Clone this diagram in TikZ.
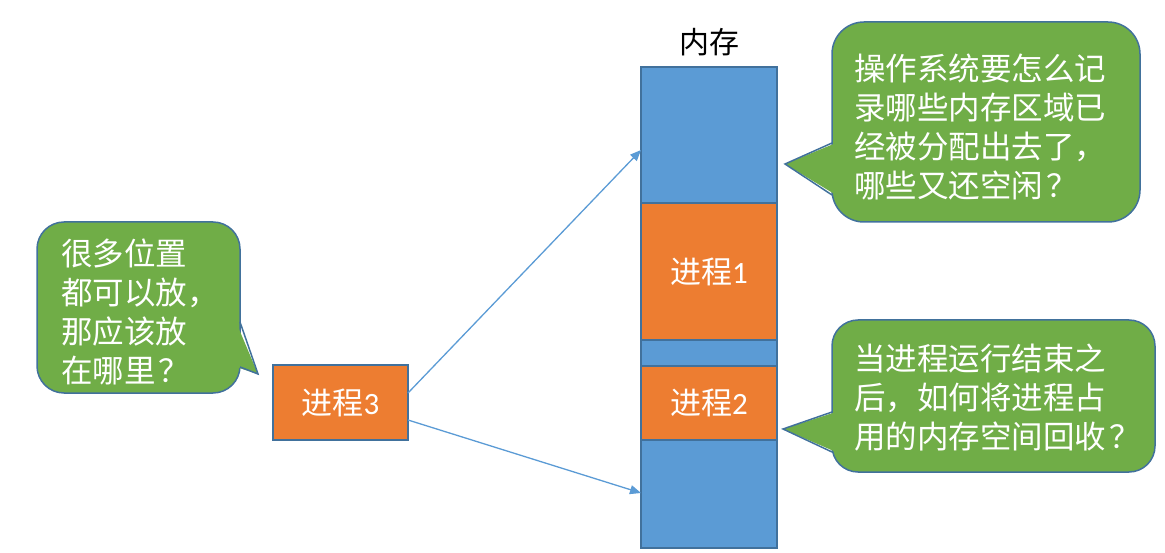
\documentclass[tikz,border=0pt]{standalone}
\usepackage{fontspec}
\newfontfamily\cjk{Noto Sans CJK SC}
\newfontfamily\carl{Carlito}
\usetikzlibrary{arrows.meta}
\definecolor{memblue}{HTML}{5B9BD5}
\definecolor{procorange}{HTML}{ED7D31}
\definecolor{edgeblue}{HTML}{41719C}
\definecolor{calloutgreen}{HTML}{70AD47}
\newcommand{\qm}{\kern0.1em？}
\tikzset{
  memseg/.style={rectangle, draw=edgeblue, line width=2pt, inner sep=0pt, outer sep=0pt, minimum width=136pt},
  freeseg/.style={memseg, fill=memblue},
  usedseg/.style={memseg, fill=procorange, text=white, font=\fontsize{31}{36}\selectfont},
  calloutbox/.style={rectangle, draw=edgeblue, line width=1.5pt, fill=calloutgreen, inner sep=0pt, outer sep=0pt},
  callouttext/.style={anchor=west, align=left, text=white, inner sep=0pt, font=\cjk\fontsize{31.5}{39}\selectfont},
  arrowline/.style={draw=memblue, line width=1.3pt, -{Triangle[length=11pt,width=9pt]}},
}
\begin{document}
\begin{tikzpicture}[x=1pt,y=-1pt]
\useasboundingbox (0,0) rectangle (1165,553);
% memory column
\node[freeseg, minimum height=136pt] (m0) at (709,135) {};
\node[usedseg, minimum height=137pt] (m1) at (709,271.5) {{\cjk 进程}{\carl 1}};
\node[freeseg, minimum height=26pt] (m2) at (709,353) {};
\node[usedseg, minimum height=74pt] (m3) at (709,403) {{\cjk 进程}{\carl 2}};
\node[freeseg, minimum height=108pt] (m4) at (709,494) {};
\node[font=\cjk\fontsize{30}{34}\selectfont, text=black] (memlabel) at (709,42) {内存};
% process 3
\node[usedseg, minimum width=135pt, minimum height=75pt] (p3) at (340.5,402.5) {{\cjk 进程}{\carl 3}};
\coordinate (s1) at (408,393);
\coordinate (s2) at (408,420);
\coordinate (e1) at (641,150);
\coordinate (e2) at (641,493);
\draw[arrowline] (s1) -- (e1);
\draw[arrowline] (s2) -- (e2);
% callout 1 (left)
\node[calloutbox, rounded corners=27pt, minimum width=203pt, minimum height=171pt] (c1) at (138.5,307.5) {};
\coordinate (c1a) at (240,322);
\coordinate (c1t) at (258,374);
\coordinate (c1b) at (240,367);
\fill[calloutgreen] (236,322) -- (c1t) -- (236,367) -- cycle;
\draw[edgeblue, line width=1.5pt, line join=miter] (c1a) -- (c1t) -- (c1b);
\node[callouttext] (t1) at (61,312) {很多位置\\都可以放，\\那应该放\\在哪里\qm};
% callout 2 (top right)
\node[calloutbox, rounded corners=32pt, minimum width=308pt, minimum height=200pt] (c2) at (986,122) {};
\coordinate (c2a) at (832,143);
\coordinate (c2t) at (785,164);
\coordinate (c2b) at (832,195);
\fill[calloutgreen] (836,143) -- (c2t) -- (836,195) -- cycle;
\draw[edgeblue, line width=1.5pt] (c2a) -- (c2t) -- (c2b);
\node[callouttext] (t2) at (854,127) {操作系统要怎么记\\录哪些内存区域已\\经被分配出去了，\\哪些又还空闲\qm};
% callout 3 (bottom right)
\node[calloutbox, rounded corners=26pt, minimum width=323pt, minimum height=152pt] (c3) at (993.5,396) {};
\coordinate (c3a) at (832,412);
\coordinate (c3t) at (783,429);
\coordinate (c3b) at (832,452);
\fill[calloutgreen] (836,412) -- (c3t) -- (836,452) -- cycle;
\draw[edgeblue, line width=1.5pt] (c3a) -- (c3t) -- (c3b);
\node[callouttext] (t3) at (854,398) {当进程运行结束之\\后，如何将进程占\\用的内存空间回收\qm};
\end{tikzpicture}
\end{document}
